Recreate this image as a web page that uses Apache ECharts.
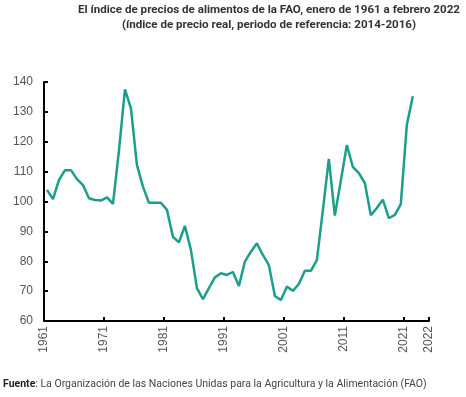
<!DOCTYPE html>
<html>
<head>
<meta charset="utf-8">
<script src="https://cdn.jsdelivr.net/npm/echarts@6/dist/echarts.min.js"></script>
<style>
  html, body { margin: 0; padding: 0; background: #fff; }
  #chart { width: 466px; height: 397px; }
</style>
</head>
<body>
<div id="chart"></div>
<script>
// años (1961-2021 anual, 2022 = febrero)
const years = [];
for (let y = 1961; y <= 2022; y++) years.push(y);

// índice de precio real (2014-2016 = 100)
const realIndex = [
  103.9, 100.8, 107.2, 110.5, 110.5, 107.5, 105.5, 101.1, 100.5, 100.3,
  101.4, 99.2, 117.0, 137.5, 131.2, 112.2, 105.0, 99.6, 99.6, 99.6,
  97.2, 88.2, 86.3, 91.8, 83.8, 71.0, 67.3, 71.0, 74.6, 76.0,
  75.4, 76.4, 71.7, 79.9, 83.2, 86.0, 82.1, 78.7, 68.4, 67.0,
  71.5, 70.1, 72.4, 76.8, 76.8, 80.4, 97.0, 114.3, 95.3, 107.0,
  118.9, 111.6, 109.5, 106.2, 95.4, 97.8, 100.6, 94.4, 95.5, 99.1,
  125.6, 135.2
];

const yTicks = { min: 60, max: 140, step: 10 };

const chart = echarts.init(document.getElementById('chart'));

chart.setOption({
  animation: false,
  title: [
    {
      text: 'El índice de precios de alimentos de la FAO, enero de 1961 a febrero 2022\n(índice de precio real, periodo de referencia: 2014-2016)',
      left: 269,
      top: 3,
      padding: 0,
      textAlign: 'center',
      textStyle: {
        fontFamily: 'Roboto',
        fontWeight: 'bold',
        fontSize: 11.6,
        lineHeight: 15,
        color: '#333'
      }
    },
    {
      text: '{b|Fuente}: La Organización de las Naciones Unidas para la Agricultura y la Alimentación (FAO)',
      left: 3,
      top: 379,
      padding: 0,
      textStyle: {
        fontFamily: 'Roboto',
        fontWeight: 'normal',
        fontSize: 10.5,
        color: '#444',
        rich: {
          b: { fontFamily: 'Roboto', fontSize: 10.5, fontWeight: 'bold', color: '#222' }
        }
      }
    }
  ],
  grid: { left: 44, right: 37, top: 82, bottom: 76 },
  xAxis: {
    type: 'value',
    min: 1960.5,
    max: 2024.7,
    interval: 10,
    splitLine: { show: false },
    axisLine: { lineStyle: { color: '#000', width: 2 } },
    axisTick: { inside: true, length: 4, lineStyle: { color: '#000', width: 2 } },
    axisLabel: {
      rotate: 90,
      margin: 5,
      fontFamily: 'Liberation Sans',
      fontSize: 12,
      color: '#555',
      showMinLabel: true,
      showMaxLabel: true,
      formatter: v => (v > 2022 ? '2022' : String(Math.round(v + 0.5)))
    }
  },
  yAxis: {
    type: 'value',
    min: yTicks.min,
    max: yTicks.max,
    interval: yTicks.step,
    splitLine: { show: false },
    axisLine: { show: true, lineStyle: { color: '#000', width: 2 } },
    axisTick: { show: true, inside: true, length: 4, lineStyle: { color: '#000', width: 2 } },
    axisLabel: {
      margin: 11,
      fontFamily: 'Liberation Sans',
      fontSize: 12,
      color: '#555'
    }
  },
  series: [{
    type: 'line',
    data: years.map((y, i) => [y, realIndex[i]]),
    symbol: 'none',
    lineStyle: { color: '#1b9e8a', width: 2.5 },
    z: 1
  }]
});
</script>
</body>
</html>
